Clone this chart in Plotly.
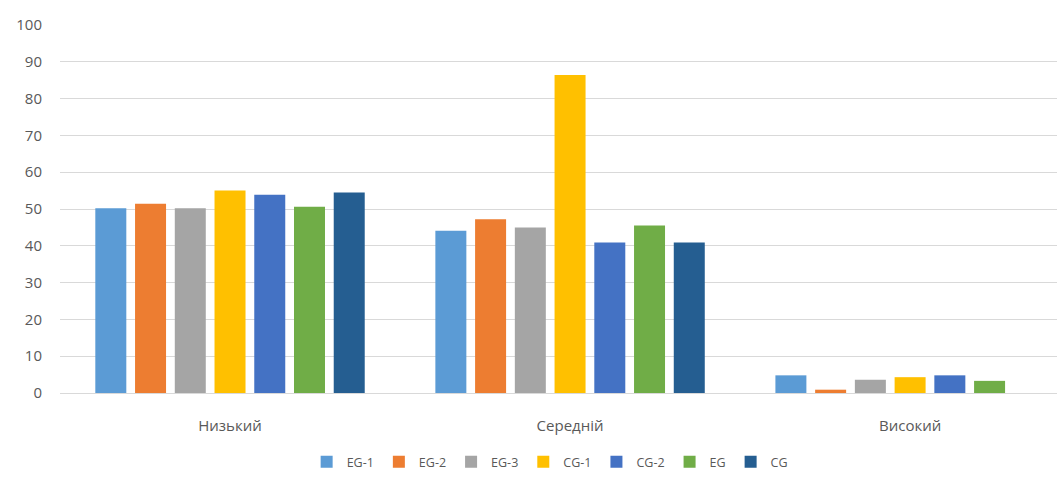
import plotly.graph_objects as go

categories = ["Низький", "Середній", "Високий"]
series_names = ["EG-1", "EG-2", "EG-3", "CG-1", "CG-2", "EG", "CG"]
eg1 = [50.2, 44.1, 4.8]
eg2 = [51.4, 47.2, 0.9]
eg3 = [50.2, 45.0, 3.6]
cg1 = [55.0, 86.4, 4.3]
cg2 = [53.9, 40.9, 4.8]
eg = [50.6, 45.5, 3.3]
cg = [54.5, 40.9, 0.0]
series_values = [eg1, eg2, eg3, cg1, cg2, eg, cg]
colors = ["#5B9BD5", "#ED7D31", "#A5A5A5", "#FFC000", "#4472C4", "#70AD47", "#255E91"]
y_ticks = [0, 10, 20, 30, 40, 50, 60, 70, 80, 90, 100]

fig = go.Figure()
for name, vals, col in zip(series_names, series_values, colors):
    fig.add_trace(go.Bar(name=name, x=categories, y=vals, marker_color=col,
                         marker_line_width=0))

font_family = "Open Sans, Liberation Sans, sans-serif"
fig.update_layout(
    width=1057, height=480,
    margin=dict(l=60, r=0, t=25, b=87),
    paper_bgcolor="white", plot_bgcolor="white",
    barmode="group", bargap=0.182, bargroupgap=0.22,
    font=dict(family=font_family, size=14, color="#595959"),
    showlegend=True,
    legend=dict(orientation="h", xref="container", yref="container",
                x=0.52, xanchor="center", y=0.0375, yanchor="middle",
                font=dict(size=12.5, color="#595959"), itemwidth=30,
                tracegroupgap=0),
    xaxis=dict(range=[-0.5, 2.432], showgrid=False, showline=False,
               ticks="outside", ticklen=19, tickcolor="rgba(0,0,0,0)",
               tickfont=dict(size=15, color="#595959")),
    yaxis=dict(range=[0, 100], tickvals=y_ticks, showgrid=True,
               gridcolor="#D9D9D9", gridwidth=1, zeroline=True,
               zerolinecolor="#D9D9D9", zerolinewidth=1,
               ticks="outside", ticklen=14, tickcolor="rgba(0,0,0,0)",
               tickfont=dict(size=15, color="#595959")),
)

fig.write_html("out.html")
